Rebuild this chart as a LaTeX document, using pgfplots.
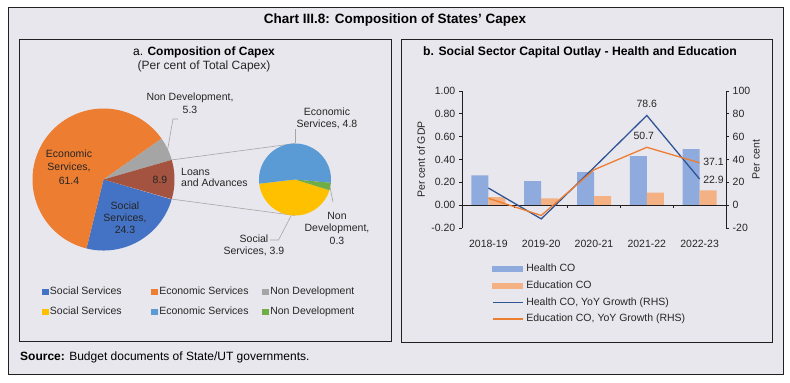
\documentclass[border=0pt]{standalone}
\usepackage{pgfplots}
\pgfplotsset{compat=1.18}
\usepackage{fontspec}
\setmainfont{Liberation Sans}
\definecolor{bg}{HTML}{E8E7ED}
\definecolor{frame}{HTML}{231F20}
\definecolor{txt}{HTML}{262626}
\definecolor{socB}{HTML}{4472C4}
\definecolor{ecoB}{HTML}{ED7D31}
\definecolor{ndB}{HTML}{A5A5A5}
\definecolor{loan}{HTML}{A3533F}
\definecolor{socS}{HTML}{FFC000}
\definecolor{ecoS}{HTML}{5B9BD5}
\definecolor{ndS}{HTML}{70AD47}
\definecolor{hbar}{HTML}{8FAADC}
\definecolor{ebar}{HTML}{F4B183}
\definecolor{hline}{HTML}{2F5597}
\definecolor{eline}{HTML}{ED7D31}
\definecolor{lead}{HTML}{A6A6A6}
\begin{document}
\fontsize{10.5bp}{12.6bp}\selectfont
\begin{tikzpicture}[x=1bp,y=1bp]
\fill[white] (0,0) rectangle (790,-382);
\fill[bg] (8,-7) rectangle (783,-374);
\draw[frame, line width=1bp] (8,-7) rectangle (783,-374);
\draw[frame, line width=1bp] (19,-39) rectangle (391,-341);
\draw[frame, line width=1bp] (401,-39) rectangle (772,-342);
\node[font=\bfseries\fontsize{13.5bp}{16bp}\selectfont, text=black] at (395,-20) {Chart III.8: Composition of States' Capex};
\node[font=\fontsize{12bp}{14bp}\selectfont, text=black] at (204,-52) {a. \textbf{Composition of Capex}};
\node[font=\fontsize{12bp}{14bp}\selectfont, text=txt] at (204,-66) {(Per cent of Total Capex)};
\node[font=\bfseries\fontsize{12.2bp}{14bp}\selectfont, text=black, anchor=west, inner sep=0pt] at (423,-52) {b. Social Sector Capital Outlay - Health and Education};
\node[font=\fontsize{12bp}{14bp}\selectfont, text=black, anchor=west, inner sep=0pt] at (20,-357) {\textbf{Source:} Budget documents of State/UT governments.};

% ---------------- Panel a: pie of pie ----------------
\draw[lead, line width=0.6bp] (171.8,-159.9) -- (295,-143.5);
\draw[lead, line width=0.6bp] (171.8,-199.1) -- (295,-215.5);
\begin{axis}[at={(19bp,-341bp)}, anchor=south west, width=372bp, height=302bp, scale only axis,
  xmin=19, xmax=391, ymin=-341, ymax=-39, hide axis, clip=false,
  legend columns=3,
  legend style={at={(axis description cs:0.0618,0.179)}, anchor=north west, draw=none, fill=none,
    inner sep=0pt, outer sep=0pt, column sep=0pt, row sep=10.2bp,
    nodes={inner xsep=1.3bp, inner ysep=0pt, text height=7.6bp, text depth=2.2bp, text=txt}},
  legend cell align=left,
  legend image code/.code={\fill[#1] (0bp,-3.3bp) rectangle (6.7bp,3.3bp);},
]
% big pie: Social 24.3, Economic 61.4, Non Development 5.3, Loans and Advances 8.9 (per cent)
\addplot[fill=socB, draw=none, samples=60, domain={8.9*1.8+5.3*3.6+61.4*3.6}:{8.9*1.8+5.3*3.6+61.4*3.6+24.3*3.6}]
  ({103.5+71*cos(x)},{-179.5+71*sin(x)}) -- (axis cs:103.5,-179.5) -- cycle;
\addlegendentry{\makebox[100bp][l]{Social Services}}
\addplot[fill=ecoB, draw=none, samples=90, domain={8.9*1.8+5.3*3.6}:{8.9*1.8+5.3*3.6+61.4*3.6}]
  ({103.5+71*cos(x)},{-179.5+71*sin(x)}) -- (axis cs:103.5,-179.5) -- cycle;
\addlegendentry{\makebox[101.7bp][l]{Economic Services}}
\addplot[fill=ndB, draw=none, samples=20, domain={8.9*1.8}:{8.9*1.8+5.3*3.6}]
  ({103.5+71*cos(x)},{-179.5+71*sin(x)}) -- (axis cs:103.5,-179.5) -- cycle;
\addlegendentry{Non Development}
% small pie: breakdown of loans and advances: Social 3.9, Economic 4.8, Non Development 0.3
\addplot[fill=socS, draw=none, samples=50, domain={-5.3+4.8*40}:{-5.3+4.8*40+3.9*40}]
  ({295+36*cos(x)},{-179.5+36*sin(x)}) -- (axis cs:295,-179.5) -- cycle;
\addlegendentry{\makebox[100bp][l]{Social Services}}
\addplot[fill=ecoS, draw=none, samples=60, domain={-5.3}:{-5.3+4.8*40}]
  ({295+36*cos(x)},{-179.5+36*sin(x)}) -- (axis cs:295,-179.5) -- cycle;
\addlegendentry{\makebox[101.7bp][l]{Economic Services}}
\addplot[fill=ndS, draw=none, samples=10, domain={-5.3+4.8*40+3.9*40}:{-5.3+4.8*40+3.9*40+0.3*40}]
  ({295+36*cos(x)},{-179.5+36*sin(x)}) -- (axis cs:295,-179.5) -- cycle;
\addlegendentry{Non Development}
\addplot[fill=loan, draw=none, samples=20, domain={-8.9*1.8}:{8.9*1.8}, forget plot]
  ({103.5+71*cos(x)},{-179.5+71*sin(x)}) -- (axis cs:103.5,-179.5) -- cycle;
\end{axis}
\begin{scope}[every node/.style={text=txt, align=center, inner sep=0pt}]
\node[font=\fontsize{10.5bp}{13.3bp}\selectfont] at (69,-167) {Economic\\Services,\\61.4};
\node[font=\fontsize{10.5bp}{12bp}\selectfont] at (125,-218) {Social\\Services,\\24.3};
\node at (160,-180) {8.9};
\node[font=\fontsize{10.5bp}{11.6bp}\selectfont, align=left, anchor=west] at (181,-177.5) {Loans\\and Advances};
\node[font=\fontsize{10.5bp}{13.3bp}\selectfont] at (190,-103) {Non Development,\\5.3};
\node[font=\fontsize{10.5bp}{11.5bp}\selectfont] at (327,-118.5) {Economic\\Services, 4.8};
\node[font=\fontsize{10.5bp}{12.5bp}\selectfont] at (337,-228) {Non\\Development,\\0.3};
\node[font=\fontsize{10.5bp}{12bp}\selectfont] at (254,-245) {Social\\Services, 3.9};
\end{scope}
\draw[lead, line width=0.6bp] (178,-119) -- (173,-119) -- (167,-153);
\draw[lead, line width=0.6bp] (295,-129) -- (295,-143);
\draw[lead, line width=0.6bp] (330,-187) -- (333,-202);
\draw[lead, line width=0.6bp] (291,-216) -- (278.5,-240) -- (270,-240);

% ---------------- Panel b ----------------
\begin{axis}[at={(462bp,-228bp)}, anchor=south west, width=264bp, height=137bp, scale only axis,
  xmin=-0.5, xmax=4.5, ymin=-0.2, ymax=1.0,
  axis y line*=left, axis x line*=bottom, x axis line style={draw=none},
  xtick={0,1,2,3,4}, xticklabels={2018-19,2019-20,2020-21,2021-22,2022-23},
  x tick style={draw=none}, xticklabel style={yshift=-5bp, text=txt},
  ytick={-0.2,0,0.2,0.4,0.6,0.8,1.0},
  yticklabel style={text=txt, /pgf/number format/fixed, /pgf/number format/fixed zerofill, /pgf/number format/precision=2},
  /pgf/number format/assume math mode=true,
  tick align=outside, major tick length=3bp,
  y tick style={frame, line width=0.8bp}, y axis line style={frame, line width=0.8bp},
  ylabel={Per cent of GDP}, ylabel style={at={(axis description cs:-0.155,0.5)}, anchor=center, text=txt},
  clip=false]
\addplot[ybar, bar width=17bp, bar shift=-8.5bp, fill=hbar, draw=none] coordinates {(0,0.26) (1,0.21) (2,0.29) (3,0.43) (4,0.49)};
\addplot[ybar, bar width=17bp, bar shift=8.5bp, fill=ebar, draw=none] coordinates {(0,0.07) (1,0.06) (2,0.08) (3,0.11) (4,0.13)};
\draw[frame, line width=0.8bp] (axis cs:-0.5,0) -- (axis cs:4.5,0);
\draw[frame, line width=0.8bp] (axis cs:0.5,0) -- (axis cs:0.5,-0.027);
\draw[frame, line width=0.8bp] (axis cs:1.5,0) -- (axis cs:1.5,-0.027);
\draw[frame, line width=0.8bp] (axis cs:2.5,0) -- (axis cs:2.5,-0.027);
\draw[frame, line width=0.8bp] (axis cs:3.5,0) -- (axis cs:3.5,-0.027);
\end{axis}
\begin{axis}[at={(462bp,-228bp)}, anchor=south west, width=264bp, height=137bp, scale only axis,
  xmin=-0.5, xmax=4.5, ymin=-20, ymax=100,
  axis y line*=right, axis x line=none,
  ytick={-20,0,20,40,60,80,100},
  yticklabel style={text=txt},
  /pgf/number format/assume math mode=true,
  tick align=outside, major tick length=3bp,
  y tick style={frame, line width=0.8bp}, y axis line style={frame, line width=0.8bp},
  ylabel={Per cent}, ylabel style={at={(axis description cs:1.1136,0.5)}, anchor=center, text=txt},
  clip=false,
  legend style={at={(axis description cs:0.1125,-0.2635)}, anchor=north west, draw=none, fill=none,
    inner sep=0pt, outer sep=0pt, column sep=0pt, row sep=6.9bp,
    nodes={inner xsep=3bp, inner ysep=0pt, text height=7.6bp, text depth=2.2bp, text=txt}},
  legend cell align=left,
  legend image code/.code={\draw[#1, line width=1.6bp] (0bp,0bp) -- (30bp,0bp);},
]
\addlegendimage{legend image code/.code={\fill[hbar] (0bp,-2.6bp) rectangle (30bp,2.6bp);}}
\addlegendentry{Health CO}
\addlegendimage{legend image code/.code={\fill[ebar] (0bp,-2.6bp) rectangle (30bp,2.6bp);}}
\addlegendentry{Education CO}
\addplot[hline, line width=1.3bp] coordinates {(0,15) (1,-12) (2,33) (3,78.6) (4,22.9)};
\addlegendentry{Health CO, YoY Growth (RHS)}
\addplot[eline, line width=1.3bp] coordinates {(0,6) (1,-9) (2,31) (3,50.7) (4,37.1)};
\addlegendentry{Education CO, YoY Growth (RHS)}
\node[anchor=south, text=txt, yshift=4bp] at (axis cs:3,78.6) {78.6};
\node[anchor=south, text=txt, xshift=-3bp, yshift=3.7bp] at (axis cs:3,50.7) {50.7};
\node[anchor=west, text=txt, yshift=1bp] at (axis cs:4,37.1) {37.1};
\node[anchor=west, text=txt, yshift=-1bp] at (axis cs:4,22.9) {22.9};
\end{axis}
\end{tikzpicture}
\end{document}
